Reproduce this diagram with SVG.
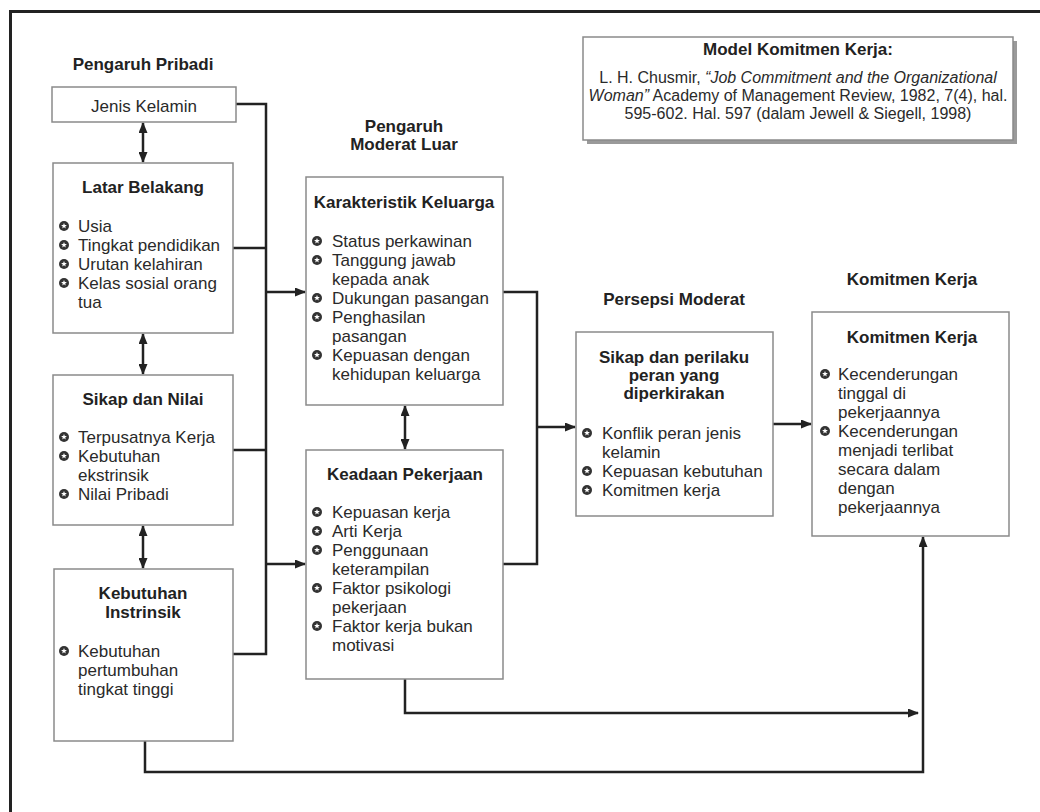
<svg xmlns="http://www.w3.org/2000/svg" width="1040" height="812" viewBox="0 0 1040 812">
<defs>
<style>
.box{fill:#fff;stroke:#8a8a8a;stroke-width:1.5}
.h{font-family:"Liberation Sans",Arial,sans-serif;font-weight:bold;font-size:17px;fill:#222;text-anchor:middle}
.t{font-family:"Liberation Sans",Arial,sans-serif;font-size:17px;fill:#2a2a2a}
.tc{font-family:"Liberation Sans",Arial,sans-serif;font-size:17px;fill:#2a2a2a;text-anchor:middle}
.r{font-family:"Liberation Sans",Arial,sans-serif;font-size:16px;fill:#2a2a2a;text-anchor:middle}
.c{fill:none;stroke:#222;stroke-width:2.5}
</style>
<marker id="ah" markerUnits="userSpaceOnUse" markerWidth="11" markerHeight="9" refX="10" refY="4.5" orient="auto-start-reverse" viewBox="0 0 11 9">
<path d="M0,0 L11,4.5 L0,9 Z" fill="#222"/>
</marker>
<g id="bl">
<circle r="5" fill="#333"/>
<polygon points="0,-3 0.8,-1 2.9,-0.9 1.2,0.4 1.8,2.4 0,1.3 -1.8,2.4 -1.2,0.4 -2.9,-0.9 -0.8,-1" fill="#fff"/>
</g>
</defs>
<rect x="0" y="0" width="1040" height="812" fill="#fff"/>
<rect x="10.5" y="11.5" width="1040" height="820" fill="none" stroke="#222" stroke-width="3"/>

<g id="headers">
<text class="h" x="143" y="70">Pengaruh Pribadi</text>
<text class="h" x="404" y="132">Pengaruh</text>
<text class="h" x="404" y="150">Moderat Luar</text>
<text class="h" x="674" y="305">Persepsi Moderat</text>
<text class="h" x="912" y="285">Komitmen Kerja</text>
</g>

<g id="model">
<rect x="587" y="41" width="430" height="103" fill="#9a9a9a"/>
<rect class="box" x="583" y="37" width="430" height="103"/>
<text class="h" x="798" y="55">Model Komitmen Kerja:</text>
<text class="r" x="798" y="83">L. H. Chusmir, <tspan font-style="italic">“Job Commitment and the Organizational</tspan></text>
<text class="r" x="798" y="101"><tspan font-style="italic">Woman”</tspan> Academy of Management Review, 1982, 7(4), hal.</text>
<text class="r" x="798" y="119">595-602. Hal. 597 (dalam Jewell &amp; Siegell, 1998)</text>
</g>

<g id="connectors">
<path class="c" d="M236,104 H266 V654 H233"/>
<path class="c" d="M233,248 H266"/>
<path class="c" d="M233,450 H266"/>
<path class="c" d="M266,292 H305" marker-end="url(#ah)"/>
<path class="c" d="M266,564 H305" marker-end="url(#ah)"/>
<path class="c" d="M143,123 V162" marker-start="url(#ah)" marker-end="url(#ah)"/>
<path class="c" d="M143,334 V374" marker-start="url(#ah)" marker-end="url(#ah)"/>
<path class="c" d="M143,526 V568" marker-start="url(#ah)" marker-end="url(#ah)"/>
<path class="c" d="M405,406 V449" marker-start="url(#ah)" marker-end="url(#ah)"/>
<path class="c" d="M503,292 H537 V564 H503"/>
<path class="c" d="M537,427 H575" marker-end="url(#ah)"/>
<path class="c" d="M773,424 H811" marker-end="url(#ah)"/>
<path class="c" d="M405,679 V713 H918" marker-end="url(#ah)"/>
<path class="c" d="M145,741 V772 H923 V537" marker-end="url(#ah)"/>
</g>

<g id="jenis">
<rect class="box" x="52" y="87" width="184" height="35"/>
<text class="tc" x="144" y="112">Jenis Kelamin</text>
</g>

<g id="latar">
<rect class="box" x="53" y="163" width="180" height="170"/>
<text class="h" x="143" y="193">Latar Belakang</text>
<use href="#bl" x="64" y="226"/><text class="t" x="78" y="232">Usia</text>
<use href="#bl" x="64" y="245"/><text class="t" x="78" y="251">Tingkat pendidikan</text>
<use href="#bl" x="64" y="264"/><text class="t" x="78" y="270">Urutan kelahiran</text>
<use href="#bl" x="64" y="283"/><text class="t" x="78" y="289">Kelas sosial orang</text>
<text class="t" x="78" y="308">tua</text>
</g>

<g id="sikap">
<rect class="box" x="53" y="375" width="180" height="150"/>
<text class="h" x="143" y="405">Sikap dan Nilai</text>
<use href="#bl" x="64" y="437"/><text class="t" x="78" y="443">Terpusatnya Kerja</text>
<use href="#bl" x="64" y="456"/><text class="t" x="78" y="462">Kebutuhan</text>
<text class="t" x="78" y="481">ekstrinsik</text>
<use href="#bl" x="64" y="494"/><text class="t" x="78" y="500">Nilai Pribadi</text>
</g>

<g id="kebutuhan">
<rect class="box" x="54" y="569" width="179" height="172"/>
<text class="h" x="143" y="599">Kebutuhan</text>
<text class="h" x="143" y="618">Instrinsik</text>
<use href="#bl" x="64" y="651"/><text class="t" x="78" y="657">Kebutuhan</text>
<text class="t" x="78" y="676">pertumbuhan</text>
<text class="t" x="78" y="695">tingkat tinggi</text>
</g>

<g id="keluarga">
<rect class="box" x="306" y="177" width="197" height="228"/>
<text class="h" x="404" y="208">Karakteristik Keluarga</text>
<use href="#bl" x="317" y="241"/><text class="t" x="332" y="247">Status perkawinan</text>
<use href="#bl" x="317" y="260"/><text class="t" x="332" y="266">Tanggung jawab</text>
<text class="t" x="332" y="285">kepada anak</text>
<use href="#bl" x="317" y="298"/><text class="t" x="332" y="304">Dukungan pasangan</text>
<use href="#bl" x="317" y="317"/><text class="t" x="332" y="323">Penghasilan</text>
<text class="t" x="332" y="342">pasangan</text>
<use href="#bl" x="317" y="355"/><text class="t" x="332" y="361">Kepuasan dengan</text>
<text class="t" x="332" y="380">kehidupan keluarga</text>
</g>

<g id="pekerjaan">
<rect class="box" x="306" y="450" width="197" height="229"/>
<text class="h" x="405" y="480">Keadaan Pekerjaan</text>
<use href="#bl" x="317" y="512"/><text class="t" x="332" y="518">Kepuasan kerja</text>
<use href="#bl" x="317" y="531"/><text class="t" x="332" y="537">Arti Kerja</text>
<use href="#bl" x="317" y="550"/><text class="t" x="332" y="556">Penggunaan</text>
<text class="t" x="332" y="575">keterampilan</text>
<use href="#bl" x="317" y="588"/><text class="t" x="332" y="594">Faktor psikologi</text>
<text class="t" x="332" y="613">pekerjaan</text>
<use href="#bl" x="317" y="626"/><text class="t" x="332" y="632">Faktor kerja bukan</text>
<text class="t" x="332" y="651">motivasi</text>
</g>

<g id="persepsi">
<rect class="box" x="576" y="332" width="197" height="184"/>
<text class="h" x="674" y="363">Sikap dan perilaku</text>
<text class="h" x="674" y="381">peran yang</text>
<text class="h" x="674" y="399">diperkirakan</text>
<use href="#bl" x="587" y="433"/><text class="t" x="602" y="439">Konflik peran jenis</text>
<text class="t" x="602" y="458">kelamin</text>
<use href="#bl" x="587" y="471"/><text class="t" x="602" y="477">Kepuasan kebutuhan</text>
<use href="#bl" x="587" y="490"/><text class="t" x="602" y="496">Komitmen kerja</text>
</g>

<g id="komitmen">
<rect class="box" x="812" y="312" width="197" height="224"/>
<text class="h" x="912" y="343">Komitmen Kerja</text>
<use href="#bl" x="825" y="374"/><text class="t" x="838" y="380">Kecenderungan</text>
<text class="t" x="838" y="399">tinggal di</text>
<text class="t" x="838" y="418">pekerjaannya</text>
<use href="#bl" x="825" y="431"/><text class="t" x="838" y="437">Kecenderungan</text>
<text class="t" x="838" y="456">menjadi terlibat</text>
<text class="t" x="838" y="475">secara dalam</text>
<text class="t" x="838" y="494">dengan</text>
<text class="t" x="838" y="513">pekerjaannya</text>
</g>
</svg>
